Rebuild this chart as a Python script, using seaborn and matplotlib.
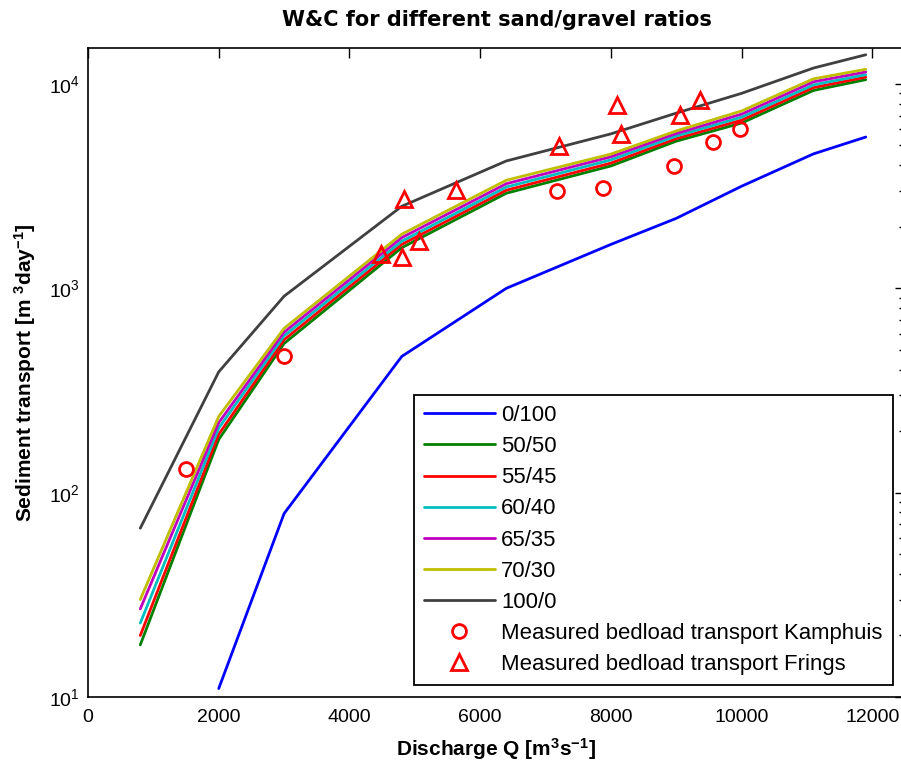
import numpy as np
import pandas as pd
import matplotlib
matplotlib.use("Agg")
import matplotlib.pyplot as plt
import seaborn as sns
from matplotlib import font_manager
from matplotlib.ticker import LogLocator, FixedLocator, NullFormatter

# ---------------- data ----------------
Q = [800, 2000, 3000, 4800, 6400, 8000, 9000, 10000, 11100, 11900]
s0_100 = [np.nan, 11, 79, 464, 1000, 1640, 2200, 3160, 4550, 5500]
s50_50 = [18, 182, 537, 1580, 2920, 3970, 5250, 6440, 9300, 10500]
s55_45 = [20, 193, 560, 1640, 3020, 4100, 5400, 6650, 9600, 10800]
s60_40 = [23, 207, 585, 1700, 3130, 4250, 5560, 6880, 9900, 11100]
s65_35 = [27, 220, 610, 1770, 3250, 4400, 5720, 7120, 10250, 11450]
s70_30 = [30, 236, 637, 1840, 3380, 4540, 5890, 7380, 10600, 11800]
s100_0 = [67, 390, 915, 2520, 4200, 5700, 7200, 9000, 11970, 13900]

series_labels = ["0/100", "50/50", "55/45", "60/40", "65/35", "70/30", "100/0"]
series_values = [s0_100, s50_50, s55_45, s60_40, s65_35, s70_30, s100_0]
series_colors = ["#0000FF", "#008000", "#FF0000", "#00BFBF", "#BF00BF", "#BFBF00", "#404040"]

kamphuis_Q = [1500, 3000, 7180, 7880, 8970, 9560, 9980]
kamphuis_S = [130, 464, 2990, 3090, 3980, 5200, 6020]
frings_Q = [4480, 4800, 4830, 5060, 5630, 7210, 8095, 8160, 9060, 9365]
frings_S = [1470, 1420, 2730, 1700, 3020, 4970, 7890, 5690, 7050, 8350]

xticks = [0, 2000, 4000, 6000, 8000, 10000, 12000]

# ---------------- fonts ----------------
names = {f.name for f in font_manager.fontManager.ttflist}
narrow = "Liberation Sans Narrow" if "Liberation Sans Narrow" in names else "Liberation Sans"

sns.set_theme(style="white")
plt.rcParams["font.family"] = [narrow, "DejaVu Sans"]
plt.rcParams["mathtext.default"] = "regular"
plt.rcParams["mathtext.fontset"] = "custom"
plt.rcParams["mathtext.rm"] = narrow
plt.rcParams["mathtext.bf"] = narrow + ":bold"
for k in ["text.color", "axes.labelcolor", "xtick.color", "ytick.color", "axes.edgecolor"]:
    plt.rcParams[k] = "black"

fig = plt.figure(figsize=(9.01, 7.69), dpi=100)
fig.patch.set_facecolor("white")
L, B, R, T = 88, 697, 905, 48
ax = fig.add_axes([L / 901, (769 - B) / 769, (R - L) / 901, (B - T) / 769])

for lab, vals, col in zip(series_labels, series_values, series_colors):
    sns.lineplot(x=Q, y=vals, color=col, lw=2.0, ax=ax, label=lab, estimator=None, sort=False)

sns.lineplot(x=kamphuis_Q, y=kamphuis_S, ax=ax, linestyle="", marker="o", markersize=10,
             markerfacecolor="none", markeredgecolor="#FF0000", markeredgewidth=2,
             label="Measured bedload transport Kamphuis", estimator=None, sort=False, color="#FF0000")
sns.lineplot(x=frings_Q, y=frings_S, ax=ax, linestyle="", marker="^", markersize=12,
             markerfacecolor="none", markeredgecolor="#FF0000", markeredgewidth=2,
             label="Measured bedload transport Frings", estimator=None, sort=False, color="#FF0000")

ax.set_yscale("log")
ax.set_xlim(0, 12500)
ax.set_ylim(10, 1.5e4)
ax.xaxis.set_major_locator(FixedLocator(xticks))
ax.yaxis.set_major_locator(LogLocator(base=10, numticks=10))
ax.yaxis.set_minor_locator(LogLocator(base=10, subs=np.arange(2, 10), numticks=20))
ax.yaxis.set_minor_formatter(NullFormatter())

for sp in ax.spines.values():
    sp.set_color("black")
    sp.set_linewidth(1.2)
ax.tick_params(axis="both", which="both", direction="in", top=True, right=True,
               colors="black", labelsize=14, width=1.0)
ax.tick_params(axis="both", which="major", length=7)
ax.tick_params(axis="y", which="minor", length=4)
ax.tick_params(axis="x", which="major", pad=9)
ax.tick_params(axis="y", which="major", pad=6)
ax.grid(False)

ax.set_title("W&C for different sand/gravel ratios", fontsize=15, fontweight="bold",
             family=["DejaVu Sans"], pad=16, color="black")
ax.set_xlabel("Discharge Q [m$^{3}$s$^{-1}$]", fontsize=15, fontweight="bold", labelpad=7)
ax.set_ylabel("Sediment transport [m $^{3}$day$^{-1}$]", fontsize=15, fontweight="bold", labelpad=8)

fs = 15.9
leg = ax.legend(loc="upper left", bbox_to_anchor=(414 / 901, 1 - 395 / 769),
                bbox_transform=fig.transFigure, frameon=True, fancybox=False,
                edgecolor="black", framealpha=1, handlelength=3.2,
                handletextpad=0.3, labelspacing=0.46, borderpad=0.45,
                borderaxespad=0, prop={"family": ["Liberation Sans"], "size": fs})
leg.get_frame().set_linewidth(1.3)
for t in leg.get_texts():
    t.set_color("black")

fig.savefig("out.png", dpi=100, facecolor="white")
